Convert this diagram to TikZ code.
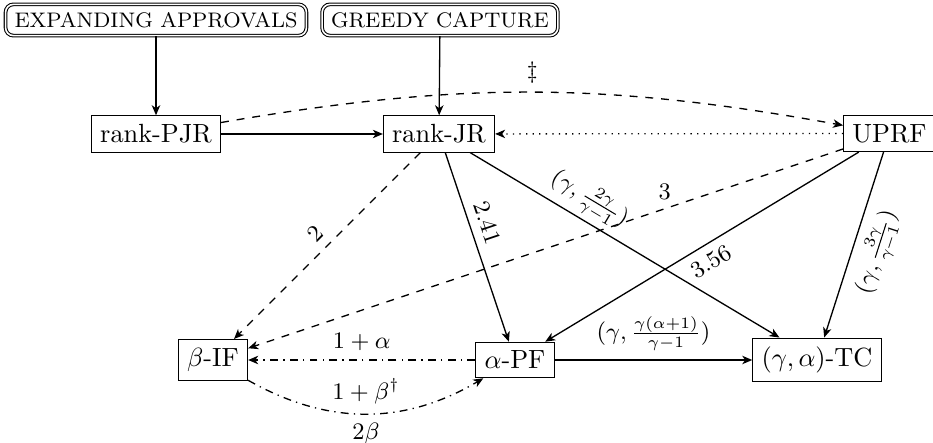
\documentclass[tikz,border=0pt]{standalone}
\usetikzlibrary{arrows.meta}
\begin{document}
\begin{tikzpicture}[x=0.38pt,y=-0.38pt,>={Stealth[length=3.8pt,width=3.2pt,inset=1.1pt]},
  box/.style={draw, rectangle, inner sep=3.333pt},
  algo/.style={draw, double, rounded corners=3pt, inner xsep=3.4pt, inner ysep=3pt, font=\footnotesize},
  conn/.style={line width=0.5pt},
  lab/.style={font=\small}]
\useasboundingbox (0,0) rectangle (933,443);
\node[algo] (ea) at (156,20) {EXPANDING APPROVALS};
\node[algo] (gc) at (440,20) {GREEDY CAPTURE};
\node[box] (pjr) at (156,134) {rank-PJR};
\node[box] (jr) at (439,134) {rank-JR};
\node[box] (uprf) at (889.5,133.5) {UPRF};
\node[box] (bif) at (213,360) {$\beta$-IF};
\node[box] (apf) at (515,360) {$\alpha$-PF};
\node[box] (tc) at (817,360) {$(\gamma,\alpha)$-TC};

\draw[conn,->] (ea) -- (pjr);
\draw[conn,->] (gc) -- (jr);
\draw[conn,->] (pjr) -- (jr);
\draw[conn,->, dotted] (uprf) -- (jr);
\draw[conn,->, dashed] (pjr) to[bend left=10] node[lab, above] {$\ddagger$} (uprf);
\draw[conn,->, dashed] (jr) -- node[lab, above, sloped] {$2$} (bif);
\draw[conn,->, dashed] (uprf) -- node[lab, above, pos=0.3] {$3$} (bif);
\draw[conn,->] (jr) -- node[lab, above, sloped, pos=0.4] {$2.41$} (apf);
\draw[conn,->] (jr) -- node[lab, above, sloped, pos=0.35, inner sep=1.5pt] {$(\gamma, \frac{2\gamma}{\gamma-1})$} (tc);
\draw[conn,->] (uprf) -- node[lab, below, sloped] {$3.56$} (apf);
\draw[conn,->] (uprf) -- node[lab, below, sloped] {$(\gamma, \frac{3\gamma}{\gamma-1})$} (tc);
\draw[conn,->] (apf) -- node[lab, above] {$(\gamma, \frac{\gamma(\alpha+1)}{\gamma-1})$} (tc);
\draw[conn,->, dash dot] (apf) -- node[lab, above] {$1+\alpha$} (bif);
\draw[conn,->, dash dot] (bif) to[bend right=30] node[lab, above] {$1+\beta^\dagger$} node[lab, below] {$2\beta$} (apf);
\end{tikzpicture}
\end{document}
